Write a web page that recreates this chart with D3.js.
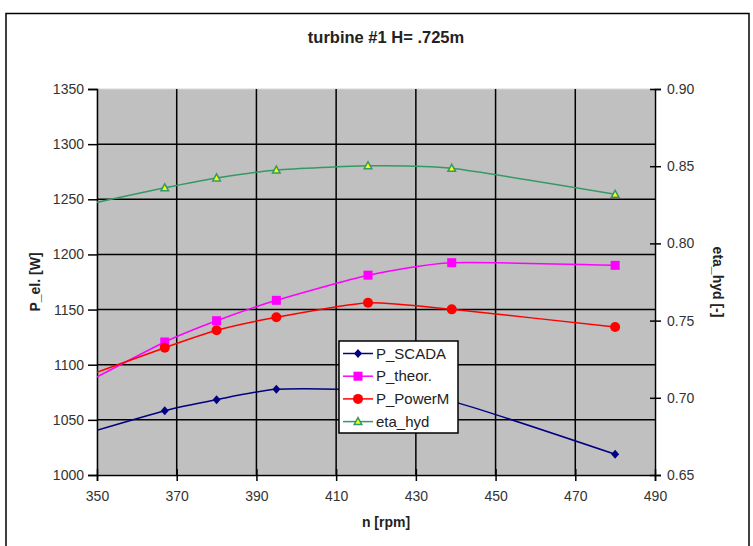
<!DOCTYPE html>
<html>
<head>
<meta charset="utf-8">
<script src="https://cdn.jsdelivr.net/npm/d3@7/dist/d3.min.js"></script>
<style>
  html, body { margin: 0; padding: 0; background: #fff; }
  svg { display: block; font-family: "Liberation Sans", Arial, sans-serif; }
</style>
</head>
<body>
<svg id="chart" width="753" height="546"></svg>
<script>
// Turbine #1 measurements: speed vs. electrical power and hydraulic efficiency
const speed      = [340, 367, 380, 395, 418, 439, 480];
const pScada     = [1030, 1058.3, 1068.3, 1077.7, 1077, 1067, 1018.8];
const pTheor     = [1070, 1120.6, 1139.9, 1158.4, 1181.2, 1192.5, 1190.1];
const pPowerM    = [1080, 1115.4, 1131.2, 1143, 1156.2, 1150.2, 1134.2];
const etaHyd     = [0.821, 0.836, 0.8424, 0.8475, 0.8503, 0.8486, 0.8318];

const xTicks     = [350, 370, 390, 410, 430, 450, 470, 490];
const yTicks     = [1000, 1050, 1100, 1150, 1200, 1250, 1300, 1350];
const y2Ticks    = [0.65, 0.70, 0.75, 0.80, 0.85, 0.90];

const seriesNames = ["P_SCADA", "P_theor.", "P_PowerM", "eta_hyd"];

const svg = d3.select("#chart");
const pLeft = 97, pRight = 655, pTop = 89, pBottom = 475;

const x  = d3.scaleLinear().domain([350, 490]).range([pLeft, pRight]);
const y  = d3.scaleLinear().domain([1000, 1350]).range([pBottom, pTop]);
const y2 = d3.scaleLinear().domain([0.65, 0.90]).range([pBottom, pTop]);

// outer frame
svg.append("rect").attr("x", 6).attr("y", 13.5).attr("width", 743).attr("height", 545)
  .attr("fill", "#fff").attr("stroke", "#000").attr("stroke-width", 1.5);

// title
svg.append("text").attr("x", 386).attr("y", 43).attr("text-anchor", "middle")
  .attr("font-size", 16.5).attr("font-weight", "bold").attr("fill", "#222")
  .text("turbine #1 H= .725m");

// plot area
svg.append("rect").attr("x", pLeft).attr("y", pTop).attr("width", pRight - pLeft).attr("height", pBottom - pTop)
  .attr("fill", "#c0c0c0").attr("stroke", "#d8d8d8").attr("stroke-width", 1);

svg.append("defs").append("clipPath").attr("id", "plotClip")
  .append("rect").attr("x", pLeft).attr("y", pTop).attr("width", pRight - pLeft).attr("height", pBottom - pTop);

// grid
const grid = svg.append("g").attr("stroke", "#000").attr("stroke-width", 1.5);
grid.selectAll("line.v").data(xTicks.slice(1, -1)).join("line").attr("class", "v")
  .attr("x1", d => x(d)).attr("x2", d => x(d)).attr("y1", pTop).attr("y2", pBottom);
grid.selectAll("line.h").data(yTicks.slice(1, -1)).join("line").attr("class", "h")
  .attr("x1", pLeft).attr("x2", pRight).attr("y1", d => y(d)).attr("y2", d => y(d));

// axes
const fmt2 = d3.format(".2f");
const xAxis = svg.append("g").attr("transform", `translate(0,${pBottom})`)
  .call(d3.axisBottom(x).tickValues(xTicks).tickSize(6).tickPadding(10).tickFormat(d3.format("d")));
xAxis.selectAll(".tick line").attr("y1", -6);
const yAxis = svg.append("g").attr("transform", `translate(${pLeft},0)`)
  .call(d3.axisLeft(y).tickValues(yTicks).tickSize(9).tickPadding(4).tickFormat(d3.format("d")));
const y2Axis = svg.append("g").attr("transform", `translate(${pRight},0)`)
  .call(d3.axisRight(y2).tickValues(y2Ticks).tickSize(6).tickPadding(6).tickFormat(fmt2));
y2Axis.selectAll(".tick line").attr("x1", -5);
[xAxis, yAxis, y2Axis].forEach(a => {
  a.select(".domain").attr("stroke", "#000").attr("stroke-width", 1.5);
  a.selectAll(".tick line").attr("stroke", "#000").attr("stroke-width", 1.5);
  a.selectAll(".tick text").attr("font-size", 14).attr("fill", "#333")
    .attr("font-family", "'Liberation Sans', Arial, sans-serif");
});

// axis titles
svg.append("text").attr("x", 386).attr("y", 527).attr("text-anchor", "middle")
  .attr("font-size", 14).attr("font-weight", "bold").attr("fill", "#222").text("n [rpm]");
svg.append("text").attr("transform", `translate(40,${(pTop + pBottom) / 2}) rotate(-90)`)
  .attr("text-anchor", "middle").attr("font-size", 14).attr("font-weight", "bold").attr("fill", "#222")
  .text("P_el. [W]");
svg.append("text").attr("transform", `translate(713,${(pTop + pBottom) / 2}) rotate(90)`)
  .attr("text-anchor", "middle").attr("font-size", 14).attr("font-weight", "bold").attr("fill", "#222")
  .text("eta_hyd [-]");

// series
const series = [
  { name: seriesNames[0], values: pScada,  scale: y,  color: "#000080", marker: "diamond" },
  { name: seriesNames[1], values: pTheor,  scale: y,  color: "#ff00ff", marker: "square" },
  { name: seriesNames[2], values: pPowerM, scale: y,  color: "#ff0000", marker: "circle" },
  { name: seriesNames[3], values: etaHyd,  scale: y2, color: "#339966", marker: "triangle" }
];

function drawMarker(g, type, color, cx, cy) {
  if (type === "diamond") {
    g.append("path").attr("d", `M${cx},${cy - 4.5}L${cx + 4},${cy}L${cx},${cy + 4.5}L${cx - 4},${cy}Z`)
      .attr("fill", color);
  } else if (type === "square") {
    g.append("rect").attr("x", cx - 4.5).attr("y", cy - 4.5).attr("width", 9).attr("height", 9)
      .attr("fill", color);
  } else if (type === "circle") {
    g.append("circle").attr("cx", cx).attr("cy", cy).attr("r", 5).attr("fill", color);
  } else {
    g.append("path").attr("d", `M${cx},${cy - 4}L${cx + 3.8},${cy + 3}L${cx - 3.8},${cy + 3}Z`)
      .attr("fill", "#ffff00").attr("stroke", color).attr("stroke-width", 1.5);
  }
}

const plot = svg.append("g").attr("clip-path", "url(#plotClip)");
series.forEach(s => {
  const line = d3.line().x((d, i) => x(speed[i])).y(d => s.scale(d)).curve(d3.curveCardinal.tension(0.4));
  plot.append("path").datum(s.values).attr("d", line)
    .attr("fill", "none").attr("stroke", s.color).attr("stroke-width", 1.5);
});
series.forEach(s => {
  const g = plot.append("g");
  s.values.forEach((v, i) => drawMarker(g, s.marker, s.color, x(speed[i]), s.scale(v)));
});

// legend
const lg = svg.append("g");
lg.append("rect").attr("x", 339).attr("y", 341).attr("width", 119).attr("height", 92)
  .attr("fill", "#fff").attr("stroke", "#000").attr("stroke-width", 1.5);
series.forEach((s, i) => {
  const cy = 353.5 + i * 22.7;
  lg.append("line").attr("x1", 343).attr("x2", 373).attr("y1", cy).attr("y2", cy)
    .attr("stroke", s.color).attr("stroke-width", 1.5);
  drawMarker(lg, s.marker, s.color, 358, cy);
  lg.append("text").attr("x", 376).attr("y", cy + 5).attr("font-size", 15).attr("fill", "#222")
    .text(s.name);
});
</script>
</body>
</html>
